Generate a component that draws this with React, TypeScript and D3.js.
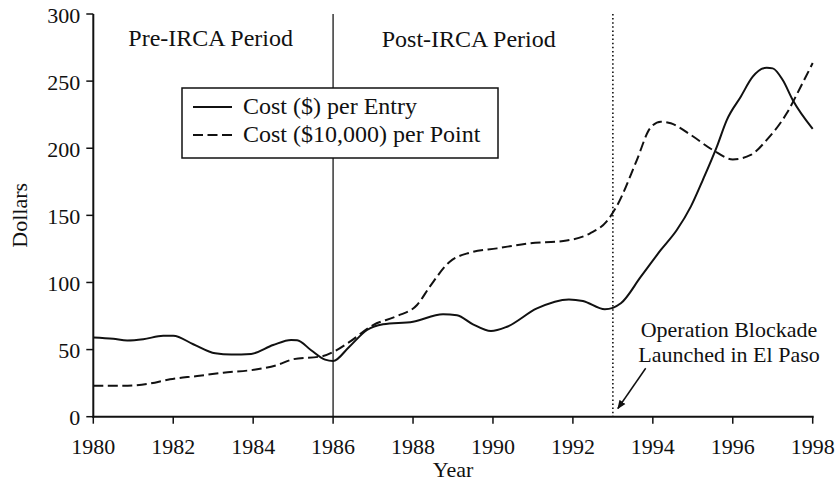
import React from "react";
import * as d3 from "d3";

const entryYears = [1980.0, 1980.5, 1980.85, 1981.25, 1981.75, 1982.0, 1982.5, 1983.05, 1983.45, 1983.95, 1984.5, 1984.95, 1985.1, 1985.45, 1985.8, 1986.0, 1986.4, 1986.85, 1987.25, 1988.0, 1988.75, 1989.1, 1989.5, 1989.95, 1990.35, 1991.1, 1991.9, 1992.25, 1992.8, 1993.2, 1993.7, 1994.2, 1994.6, 1994.95, 1995.25, 1995.6, 1995.85, 1996.2, 1996.5, 1996.85, 1997.0, 1997.25, 1997.5, 1998.0];
const entryCost = [59, 58, 56.8, 57.7, 60.3, 60.3, 54, 47.2, 46.3, 46.8, 53.4, 57.2, 57, 49.5, 42.5, 41.5, 52, 64.6, 68.8, 70.8, 76.3, 75.5, 68.8, 63.8, 67, 80.7, 87.4, 86.2, 80, 84.5, 104.3, 124.2, 139.1, 156.5, 176.3, 201, 221, 238.4, 253.3, 260, 259.5, 250.8, 236, 214.5];

const pointYears = [1980.0, 1980.75, 1981.38, 1981.92, 1982.6, 1983.25, 1984.1, 1984.6, 1985.0, 1985.75, 1986.0, 1986.42, 1987.0, 1987.6, 1988.1, 1988.42, 1988.92, 1989.42, 1990.1, 1990.92, 1991.76, 1992.43, 1992.84, 1993.1, 1993.6, 1993.93, 1994.2, 1994.45, 1994.95, 1995.5, 1996.0, 1996.45, 1996.85, 1997.35, 1997.7, 1998.0];
const pointCost = [23, 23, 24.5, 27.9, 30.3, 32.8, 35.3, 38.5, 42.8, 45.2, 48.2, 55.9, 68.3, 75, 83.2, 96.9, 115.5, 122.2, 125.4, 129.2, 130.9, 136.6, 145.3, 157, 191.2, 214.8, 219.8, 218.6, 209.9, 198.7, 191.7, 195, 206.2, 226, 245.8, 263.5];

const xTicks = [1980, 1982, 1984, 1986, 1988, 1990, 1992, 1994, 1996, 1998];
const yTicks = [0, 50, 100, 150, 200, 250, 300];
const legendLabels = ["Cost ($) per Entry", "Cost ($10,000) per Point"];
const periodLabels = ["Pre-IRCA Period", "Post-IRCA Period"];
const ircaYear = 1986;
const blockadeYear = 1993;
const annotationLines = ["Operation Blockade", "Launched in El Paso"];

const FONT = "'Liberation Serif', 'Times New Roman', serif";
const INK = "#111";

export default function App() {
  const W = 837, H = 484;
  const x = d3.scaleLinear().domain([1980, 1998]).range([93.3, 812.7]);
  const y = d3.scaleLinear().domain([0, 300]).range([416.7, 14]);

  const line = d3
    .line<[number, number]>()
    .x((d) => x(d[0]))
    .y((d) => y(d[1]))
    .curve(d3.curveMonotoneX);

  const entryPath = line(entryYears.map((yr, i) => [yr, entryCost[i]]) as [number, number][]) || "";
  const pointPath = line(pointYears.map((yr, i) => [yr, pointCost[i]]) as [number, number][]) || "";

  const x0 = x.range()[0], x1 = x.range()[1];
  const yBottom = y(0), yTop = y(300);

  return (
    <svg width={W} height={H} style={{ position: "absolute", left: 0, top: 0, background: "#fff" }} fontFamily={FONT}>
      <defs>
        <marker id="arrow" viewBox="0 0 10 10" refX="9" refY="5" markerWidth="9" markerHeight="9" orient="auto" markerUnits="userSpaceOnUse">
          <path d="M0,1 L10,5 L0,9 z" fill={INK} />
        </marker>
      </defs>

      {/* IRCA vertical line */}
      <line x1={x(ircaYear)} x2={x(ircaYear)} y1={yTop} y2={yBottom} stroke="#444" strokeWidth={1.6} />
      {/* Blockade dotted line */}
      <line x1={x(blockadeYear)} x2={x(blockadeYear)} y1={yTop} y2={yBottom} stroke={INK} strokeWidth={1.6} strokeDasharray="1.5,2.6" />

      {/* series */}
      <path d={pointPath} fill="none" stroke={INK} strokeWidth={2} strokeDasharray="10,4.5" />
      <path d={entryPath} fill="none" stroke={INK} strokeWidth={2} />

      {/* axes */}
      <line x1={x0} x2={x0} y1={yTop} y2={yBottom + 1} stroke={INK} strokeWidth={2} />
      <line x1={x0 - 1} x2={x1 + 1} y1={yBottom} y2={yBottom} stroke={INK} strokeWidth={2} />
      {yTicks.map((t) => (
        <g key={"y" + t}>
          <line x1={x0 - 7} x2={x0} y1={y(t)} y2={y(t)} stroke={INK} strokeWidth={1.5} />
          <text x={x0 - 13} y={y(t) + 8.5} textAnchor="end" fontSize={22} fill={INK}>
            {t}
          </text>
        </g>
      ))}
      {xTicks.map((t) => (
        <g key={"x" + t}>
          <line x1={x(t)} x2={x(t)} y1={yBottom} y2={yBottom + 7} stroke={INK} strokeWidth={1.5} />
          <text x={x(t)} y={yBottom + 37} textAnchor="middle" fontSize={22} fill={INK}>
            {t}
          </text>
        </g>
      ))}
      <text x={(x0 + x1) / 2} y={477} textAnchor="middle" fontSize={22} fill={INK}>
        Year
      </text>
      <text transform={`translate(27,${(yTop + yBottom) / 2}) rotate(-90)`} textAnchor="middle" fontSize={22} fill={INK}>
        Dollars
      </text>

      {/* period labels */}
      <text x={128.3} y={46} fontSize={24} fill={INK}>{periodLabels[0]}</text>
      <text x={381.7} y={47} fontSize={24} fill={INK}>{periodLabels[1]}</text>

      {/* legend */}
      <rect x={182} y={88} width={316} height={70} fill="#fff" stroke={INK} strokeWidth={1.5} />
      <line x1={193} x2={232} y1={107} y2={107} stroke={INK} strokeWidth={2} />
      <line x1={193} x2={232} y1={135} y2={135} stroke={INK} strokeWidth={2} strokeDasharray="10,4.5" />
      <text x={243} y={114} fontSize={24} fill={INK}>{legendLabels[0]}</text>
      <text x={243} y={142} fontSize={24} fill={INK}>{legendLabels[1]}</text>

      {/* annotation */}
      <text x={729} y={337} textAnchor="middle" fontSize={22} fill={INK}>{annotationLines[0]}</text>
      <text x={729} y={362} textAnchor="middle" fontSize={22} fill={INK}>{annotationLines[1]}</text>
      <line x1={645.7} y1={368.3} x2={x(blockadeYear) + 5} y2={408.5} stroke={INK} strokeWidth={1.5} markerEnd="url(#arrow)" />
    </svg>
  );
}
